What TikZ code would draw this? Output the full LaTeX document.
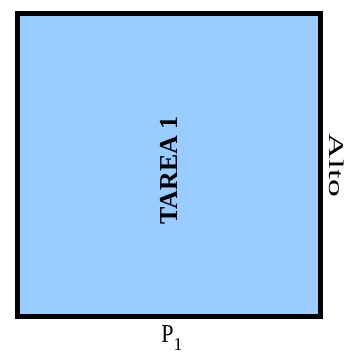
\documentclass[tikz,border=0pt]{standalone}
\usepackage{fontspec}
\setmainfont{Liberation Serif}
\usetikzlibrary{positioning}
\definecolor{cblue}{HTML}{99CCFF}
\tikzset{
  every picture/.style={line width=1pt},
  task/.style={draw=black, fill=cblue, line width=5bp, minimum size=303bp, inner sep=0pt},
  title/.style={font=\fontsize{26}{28}\selectfont\bfseries},
  side/.style={font=\fontsize{21}{24}\selectfont, inner sep=0pt},
}

\begin{document}
\begin{tikzpicture}[x=1bp, y=-1bp]
  \useasboundingbox (0,0) rectangle (353,358);
  \node[task] (box) at (169,164.5) {};
  \node[title, rotate=90] (tarea) at ([yshift=-6bp]box.center) {TAREA 1};
  \node[side, rotate=-90, anchor=south] (alto) at ([xshift=6bp,yshift=-1bp]box.east) {\scalebox{1.7}[1]{Alto}};
  \node[side, anchor=north, font=\fontsize{26}{28}\selectfont] (p1) at ([xshift=3bp,yshift=-7bp]box.south)
    {\scalebox{0.85}[1]{P}\raisebox{-0.3em}{\fontsize{18}{18}\selectfont 1}};
\end{tikzpicture}
\end{document}
